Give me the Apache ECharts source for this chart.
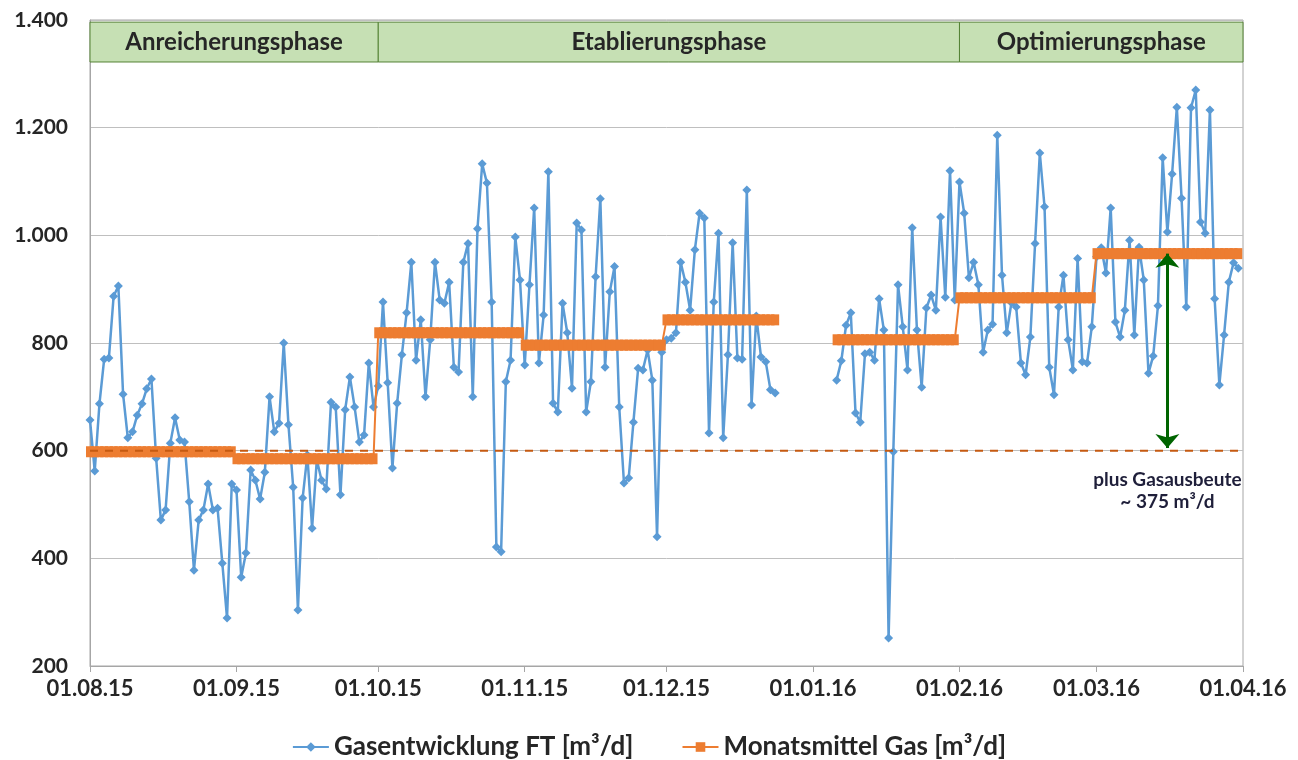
<!DOCTYPE html>
<html><head><meta charset="utf-8">
<script src="https://cdn.jsdelivr.net/npm/echarts@6/dist/echarts.min.js"></script>
<style>html,body{margin:0;padding:0;background:#fff}#c{width:1298px;height:760px}</style>
</head><body><div id="c"></div>
<script>
// daily gas production [m³/d], one value per day, null = no measurement
const gasAug = [657,562,687,770,772,887,906,705,624,635,666,687,715,733,586,471,490,614,661,620,616,505,378,471,490,538,490,493,391,289,538];
const gasSep = [527,365,410,564,545,510,560,700,635,651,800,648,532,304,512,592,456,583,545,529,690,681,518,676,737,681,616,629,763,681];
const gasOct = [720,876,726,568,688,778,856,950,768,843,700,806,950,880,874,913,755,746,950,985,700,1012,1133,1097,876,421,412,728,768,997,917];
const gasNov = [759,908,1051,763,852,1118,688,672,874,819,716,1023,1010,672,728,923,1068,755,895,942,681,540,549,653,753,750,787,731,440,783];
const gasDec = [806,809,819,950,913,861,973,1041,1032,633,876,1004,624,778,986,772,770,1084,685,850,774,765,713,707,null,null,null,null,null,null,null];
const gasJan = [null,null,null,null,null,731,767,833,856,670,653,780,783,768,882,824,252,598,908,830,750,1014,824,718,865,889,861,1034,885,1120,880];
const gasFeb = [1099,1041,921,950,908,783,824,835,1186,926,819,875,867,763,741,811,985,1153,1053,755,704,867,926,806,750,957,765,763,830];
const gasMar = [960,977,930,1051,839,811,861,991,815,978,917,744,776,869,1144,1006,1114,1238,1069,867,1237,1270,1025,1004,1233,882,722,815,913,949,939];
const gasApr = [null];
// monthly means [m³/d] (Aug ... Mar)
const monthMeans = [598,585,819,796,843,806,884,966];
const baseline = 600;            // reference level before treatment
const gainValue = 375;           // annotated gain
const phases = [
  {name:'Anreicherungsphase', from:'01.08.15', to:'01.10.15'},
  {name:'Etablierungsphase',  from:'01.10.15', to:'01.02.16'},
  {name:'Optimierungsphase',  from:'01.02.16', to:'01.04.16'}
];
const phaseBand = [1322, 1396];
const yMin = 200, yMax = 1400, yStep = 200;

// categories: every day 01.08.15 ... 01.04.16
const categories = [];
const monthOfDay = [];
for (let t = Date.UTC(2015,7,1); t <= Date.UTC(2016,3,1); t += 86400000) {
  const d = new Date(t);
  const dd = String(d.getUTCDate()).padStart(2,'0');
  const mm = String(d.getUTCMonth()+1).padStart(2,'0');
  const yy = String(d.getUTCFullYear()).slice(2);
  categories.push(dd+'.'+mm+'.'+yy);
  monthOfDay.push((d.getUTCFullYear()-2015)*12 + d.getUTCMonth() - 7);
}
const gas = [].concat(gasAug,gasSep,gasOct,gasNov,gasDec,gasJan,gasFeb,gasMar,gasApr);
const meanDaily = gas.map((v,i)=> v==null ? null : monthMeans[monthOfDay[i]]);
const baseDaily = categories.map(()=>baseline);

const FONT = 'Lato';
const isFirst = (idx, val) => val.startsWith('01.');
const fmtY = v => v >= 1000 ? Math.floor(v/1000)+'.'+String(v%1000).padStart(3,'0') : String(v);

const chart = echarts.init(document.getElementById('c'), null, {renderer:'canvas'});
chart.setOption({
  animation:false,
  backgroundColor:'#fff',
  textStyle:{fontFamily:FONT},
  grid:{left:90, right:55, top:20, bottom:94, show:true, borderColor:'#A6A6A6', borderWidth:1},
  xAxis:{
    type:'category', data:categories, boundaryGap:false,
    axisLine:{lineStyle:{color:'#A6A6A6'}},
    axisTick:{show:true, interval:isFirst, length:6, lineStyle:{color:'#A6A6A6'}},
    axisLabel:{interval:isFirst, margin:12, fontSize:22, fontWeight:'bold', color:'#262626', fontFamily:FONT},
    splitLine:{show:false}
  },
  yAxis:{
    type:'value', min:yMin, max:yMax, interval:yStep,
    axisLine:{show:true, lineStyle:{color:'#A6A6A6'}},
    axisTick:{show:false},
    axisLabel:{formatter:fmtY, margin:22, fontSize:21, fontWeight:'bold', color:'#262626', fontFamily:FONT},
    splitLine:{lineStyle:{color:'#BFBFBF', width:1}}
  },
  legend:{
    data:['Gasentwicklung FT [m³/d]','Monatsmittel Gas [m³/d]'],
    top:729, left:'center', itemWidth:36, itemHeight:12, itemGap:48,
    textStyle:{fontSize:26, fontWeight:'bold', color:'#262626', fontFamily:FONT}
  },
  series:[
    {
      name:'Gasentwicklung FT [m³/d]', type:'line', data:gas, connectNulls:false,
      symbol:'diamond', symbolSize:9, showSymbol:true, showAllSymbol:true,
      lineStyle:{color:'#5B9BD5', width:2.5},
      itemStyle:{color:'#5B9BD5'}, z:2
    },
    {
      name:'Monatsmittel Gas [m³/d]', type:'line', data:meanDaily, connectNulls:false,
      symbol:'rect', symbolSize:[8,11], showSymbol:true, showAllSymbol:true,
      lineStyle:{color:'#ED7D31', width:2},
      itemStyle:{color:'#ED7D31'}, z:3
    },
    {
      name:'Basis', type:'line', data:baseDaily, symbol:'none',
      lineStyle:{color:'#C55A11', width:2, type:[8,7]}, z:4, silent:true,
      markArea:{
        silent:true,
        itemStyle:{color:'#C6E0B4', borderColor:'#548235', borderWidth:1},
        label:{show:true, position:'inside', fontSize:24, fontWeight:'bold', color:'#262626', fontFamily:FONT},
        data: phases.map(p=>[{name:p.name, xAxis:p.from, yAxis:phaseBand[0]},{xAxis:p.to, yAxis:phaseBand[1]}])
      },
      markLine:{
        silent:true, symbol:['arrow','arrow'], symbolSize:[18,14],
        label:{show:false},
        lineStyle:{color:'#006400', width:3, type:'solid'},
        data:[[{coord:['16.03.16', monthMeans[7]]},{coord:['16.03.16', baseline+5]}]]
      },
      markPoint:{
        silent:true, symbol:'circle', symbolSize:0,
        label:{show:true, position:'inside', formatter:'plus Gasausbeute\n~ '+gainValue+' m³/d',
          fontSize:19, fontWeight:'bold', color:'#1F1F3A', lineHeight:22, fontFamily:FONT},
        data:[{coord:['16.03.16', 525]}]
      }
    }
  ]
});
</script>
</body></html>
